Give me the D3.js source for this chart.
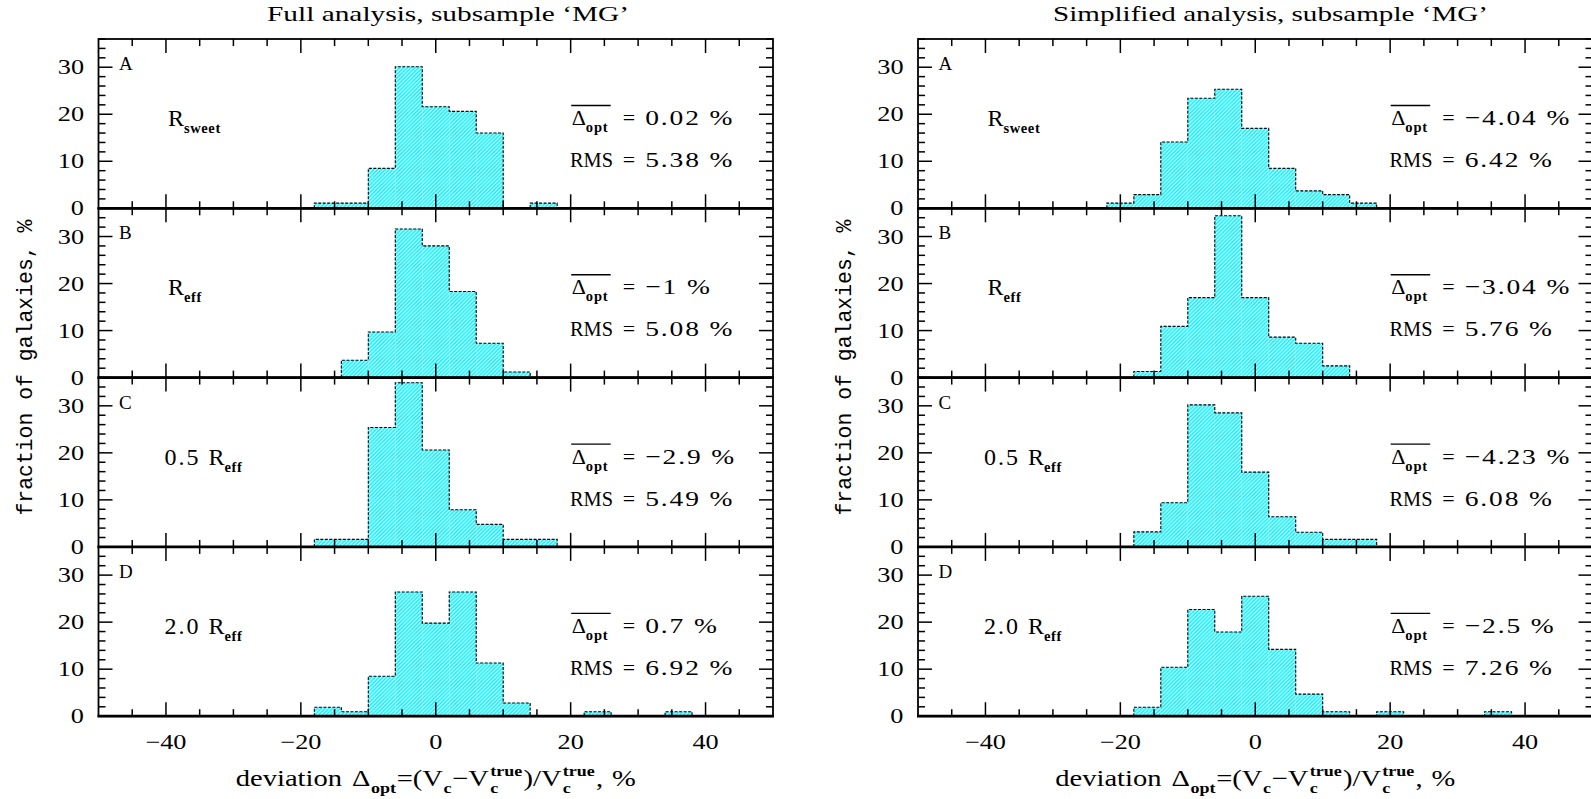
<!DOCTYPE html>
<html><head><meta charset="utf-8">
<script src="https://cdn.jsdelivr.net/npm/d3@7"></script>
<style>body{margin:0;background:#fff;} svg{display:block;background:#fff;}</style>
</head><body>
<svg id="chart" width="1591" height="799"></svg>
<script>
// ---------------- data ----------------
const binLefts = [-22,-18,-14,-10,-6,-2,2,6,10,14,18,22,26,30,34];
const binWidth = 4;
// Full analysis, subsample 'MG' (fraction of galaxies, %)
const fullA = [0,1.1,1.1,8.5,30.1,21.6,20.6,16.0,0,1.1,0,0,0,0,0];
const fullB = [0,0,3.7,9.7,31.6,28.0,18.3,7.3,1.2,0,0,0,0,0,0];
const fullC = [0,1.6,1.6,25.4,34.9,20.6,7.9,4.8,1.6,1.6,0,0,0,0,0];
const fullD = [0,1.9,0.95,8.5,26.4,19.8,26.4,11.3,2.8,0,0,0.95,0,0,0.95];
// Simplified analysis, subsample 'MG'
const simpA = [1.1,2.9,14.1,23.4,25.3,17.0,8.5,3.7,2.9,1.1,0,0,0,0,0];
const simpB = [0,1.3,10.9,17.0,34.4,17.0,8.6,7.3,2.5,0,0,0,0,0,0];
const simpC = [0,3.2,9.4,30.2,28.5,15.9,6.4,3.1,1.6,1.6,0,0,0,0,0];
const simpD = [0,1.9,10.4,22.7,17.9,25.5,14.2,4.7,0.95,0,0.95,0,0,0,0.95];

const fullMeans = ["0.02","\u22121","\u22122.9","0.7"];
const fullRMS   = ["5.38","5.08","5.49","6.92"];
const simpMeans = ["\u22124.04","\u22123.04","\u22124.23","\u22122.5"];
const simpRMS   = ["6.42","5.76","6.08","7.26"];

const panelLetters = ["A","B","C","D"];
const radiusPrefix = ["","","0.5","2.0"];
const radiusSub    = ["sweet","eff","eff","eff"];
const titles = ["Full analysis, subsample \u2018MG\u2019","Simplified analysis, subsample \u2018MG\u2019"];
const yLabel = "fraction of galaxies, %";
const xTickLabels = [-40,-20,0,20,40];
const yTickLabels = [0,10,20,30];
const xDomain = [-50,50];
const yDomain = [0,36];

const columns = [
  {vals:[fullA,fullB,fullC,fullD], means:fullMeans, rms:fullRMS, title:titles[0]},
  {vals:[simpA,simpB,simpC,simpD], means:simpMeans, rms:simpRMS, title:titles[1]}
];

// ---------------- layout ----------------
const COLX = [98.5, 918];
const PW = 674.5;
const TOP = 39;
const PH = 169.3;
const SERIF = "'Liberation Serif','Times New Roman',serif";
const MONO = "'Liberation Mono','Courier New',monospace";
const TITLE_START = [267, 1053];
const TITLE_W = [362, 435];
const WIDE = 1.25;   // horizontal stretch imitating the wide plotting font

const svg = d3.select('#chart');
const defs = svg.append('defs');
const pat = defs.append('pattern').attr('id','hatch')
  .attr('patternUnits','userSpaceOnUse').attr('width',3.8).attr('height',3.8);
pat.append('rect').attr('width',3.8).attr('height',3.8).attr('fill','#fff');
pat.append('path').attr('d','M-1,1 L1,-1 M0,3.8 L3.8,0 M2.8,4.8 L4.8,2.8')
  .attr('stroke','#00f2ff').attr('stroke-width',1.6);

function fmt(v){ return v<0 ? '\u2212'+Math.abs(v) : String(v); }
function wideText(parent, px, py, size, anchor){
  return parent.append('text').attr('transform', `translate(${px},${py}) scale(${WIDE},1)`)
    .attr('font-family', SERIF).attr('font-size', size).attr('text-anchor', anchor||'start');
}

columns.forEach((col, c) => {
  const x0 = COLX[c];
  const x = d3.scaleLinear().domain(xDomain).range([x0, x0+PW]);
  const g = svg.append('g');

  // title
  g.append('text').attr('x', TITLE_START[c]).attr('y', 21)
    .attr('font-family', SERIF).attr('font-size', 21)
    .attr('textLength', TITLE_W[c]).attr('lengthAdjust','spacingAndGlyphs')
    .text(col.title);

  // y label
  const ylx = x0 - 67, yly = TOP + 2*PH - 10;
  g.append('text').attr('transform', `translate(${ylx},${yly}) rotate(-90)`)
    .attr('text-anchor','middle').attr('font-family', MONO).attr('font-size', 22)
    .attr('textLength', 296).attr('lengthAdjust','spacingAndGlyphs')
    .text(yLabel);

  col.vals.forEach((vals, p) => {
    const top = TOP + p*PH, bot = top + PH;
    const y = d3.scaleLinear().domain(yDomain).range([bot, top]);
    const pg = g.append('g');

    // hatched bars
    const bins = binLefts.map((l,i)=>({l, v:vals[i]}));
    pg.selectAll('rect.bar').data(bins.filter(b=>b.v>0)).join('rect')
      .attr('class','bar')
      .attr('x', d=>x(d.l)).attr('width', d=>x(d.l+binWidth)-x(d.l))
      .attr('y', d=>y(d.v)).attr('height', d=>y(0)-y(d.v))
      .attr('fill','url(#hatch)');

    // dashed step outline
    const nz = bins.map((b,i)=>b.v>0?i:-1).filter(i=>i>=0);
    const i0 = nz[0], i1 = nz[nz.length-1];
    const path = d3.path();
    path.moveTo(x(bins[i0].l), y(0));
    for (let i=i0;i<=i1;i++){
      path.lineTo(x(bins[i].l), y(bins[i].v));
      path.lineTo(x(bins[i].l+binWidth), y(bins[i].v));
    }
    path.lineTo(x(bins[i1].l+binWidth), y(0));
    pg.append('path').attr('d', path.toString()).attr('fill','none')
      .attr('stroke','#000').attr('stroke-width',1.1).attr('stroke-dasharray','3,1.5');

    // ticks
    const tk = pg.append('g').attr('stroke','#000').attr('stroke-width',1.5);
    d3.range(0, 37, 2).forEach(v => {
      const L = (v%10===0) ? 14 : 7;
      tk.append('line').attr('x1',x.range()[0]).attr('x2',x.range()[0]+L).attr('y1',y(v)).attr('y2',y(v));
      tk.append('line').attr('x1',x.range()[1]).attr('x2',x.range()[1]-L).attr('y1',y(v)).attr('y2',y(v));
    });
    d3.range(-45, 50, 5).forEach(v => {
      const L = (v%20===0) ? 14 : 7;
      tk.append('line').attr('x1',x(v)).attr('x2',x(v)).attr('y1',bot).attr('y2',bot-L);
      tk.append('line').attr('x1',x(v)).attr('x2',x(v)).attr('y1',top).attr('y2',top+L);
    });

    // frame
    pg.append('rect').attr('x',x.range()[0]).attr('y',top).attr('width',PW).attr('height',PH)
      .attr('fill','none').attr('stroke','#000').attr('stroke-width',1.8);
    pg.append('line').attr('x1',x.range()[0]-1).attr('x2',x.range()[1]+1).attr('y1',bot).attr('y2',bot)
      .attr('stroke','#000').attr('stroke-width',2.8);

    // y tick labels
    yTickLabels.forEach(v => {
      wideText(pg, x0-14.5, y(v)+7, 21, 'end').text(v);
    });

    // panel letter
    pg.append('text').attr('x', x0+20.5).attr('y', top+31)
      .attr('font-family',SERIF).attr('font-size',19).text(panelLetters[p]);

    // radius label
    const rl = pg.append('text').attr('y', top+87).attr('font-family',SERIF).attr('font-size',24);
    if (radiusPrefix[p]) {
      rl.attr('x', x0+66);
      rl.append('tspan').attr('letter-spacing',2).text(radiusPrefix[p]);
      rl.append('tspan').attr('dx',8).text('R');
    } else {
      rl.attr('x', x0+69.5);
      rl.append('tspan').text('R');
    }
    rl.append('tspan').attr('dy',7).attr('font-size',14.5).attr('font-weight','bold')
      .attr('letter-spacing',0.6).text(radiusSub[p]);

    // statistics
    const xs = x0 + 473.2;
    const l1 = top+86, l2 = top+128;
    const t1 = pg.append('text').attr('x', xs).attr('y', l1).attr('font-family',SERIF).attr('font-size',22);
    t1.append('tspan').text('\u0394');
    t1.append('tspan').attr('dy',7).attr('font-size',14.5).attr('font-weight','bold').attr('letter-spacing',0.8).text('opt');
    pg.append('line').attr('x1',xs-0.5).attr('x2',xs+39).attr('y1',top+66.5).attr('y2',top+66.5)
      .attr('stroke','#000').attr('stroke-width',1.4);
    pg.append('text').attr('x', xs-1.7).attr('y', l2).attr('font-family',SERIF).attr('font-size',22)
      .attr('textLength',43).attr('lengthAdjust','spacingAndGlyphs').text('RMS');
    [[l1, col.means[p]],[l2, col.rms[p]]].forEach(([yy, val]) => {
      pg.append('text').attr('x', xs+51).attr('y', yy).attr('font-family',SERIF).attr('font-size',22).text('=');
      wideText(pg, xs+73.5, yy, 22).attr('letter-spacing',1.5).text(val+' %');
    });

    // x tick labels (bottom panel only)
    if (p === 3) {
      xTickLabels.forEach(v => {
        wideText(pg, x(v), 748.5, 21, 'middle').text(fmt(v));
      });
    }
  });

  // x axis title (rich text)
  const xg = g.append('g');
  let cx = 0;
  const add = (t, xx, dy, size, bold) => {
    const el = xg.append('text').attr('x', xx).attr('y', dy).attr('font-family',SERIF)
      .attr('font-size', size).attr('font-weight', bold?'bold':'normal')
      .style('white-space','pre').text(t);
    return el.node().getComputedTextLength();
  };
  const segs = [
    {n:'deviation'},{gap:8},{n:'\u0394'},{sub:'opt'},{n:'=(V'},{sub:'c'},{n:'\u2212V'},
    {sub:'c', sup:'true'},{n:')/V'},{sub:'c', sup:'true'},{n:','},{gap:7},{n:'%'}
  ];
  segs.forEach(s => {
    if (s.gap !== undefined) cx += s.gap;
    else if (s.n !== undefined) cx += add(s.n, cx, 0, 23, false);
    else if (s.sup !== undefined) {
      const w1 = add(s.sub, cx+1, 7, 14.5, true);
      const w2 = add(s.sup, cx+1, -10, 14.5, true);
      cx += Math.max(w1,w2)+2;
    } else cx += add(s.sub, cx+0.5, 7, 14.5, true)+1;
  });
  const targetW = 400, sx = targetW/cx;
  const xc = x0 + PW/2;
  xg.attr('transform', `translate(${xc - targetW/2},786) scale(${sx},1)`);
});
</script>
</body></html>
